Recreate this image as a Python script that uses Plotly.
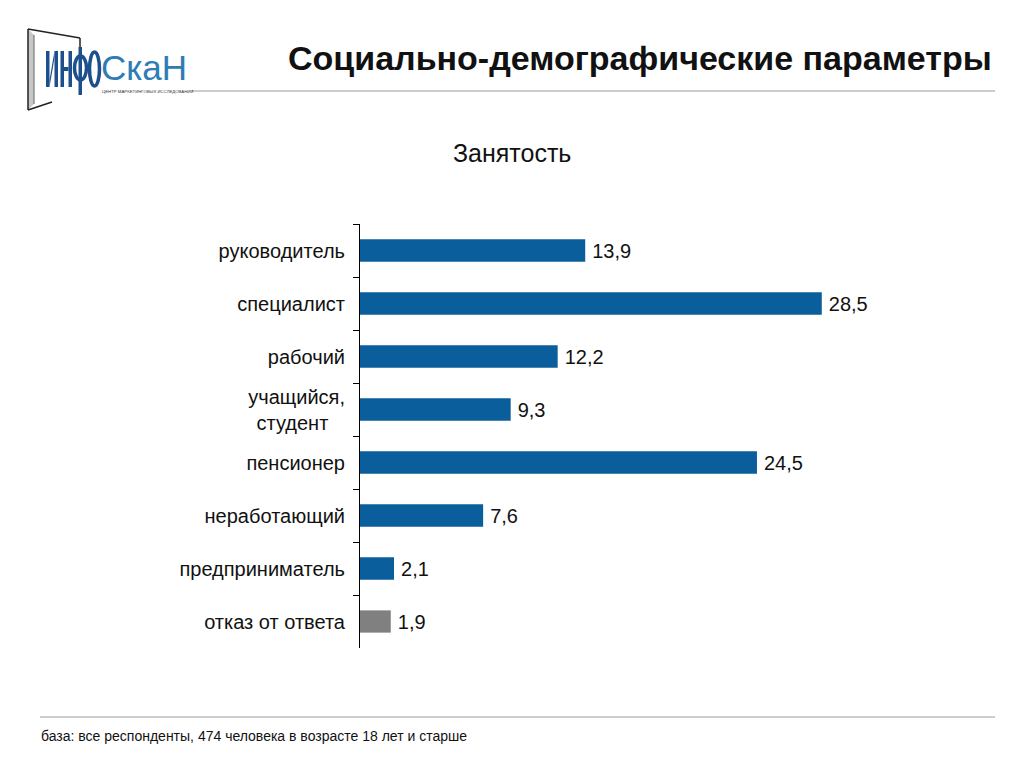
import plotly.graph_objects as go

categories = ["руководитель", "специалист", "рабочий", "учащийся,<br>студент\u00a0\u00a0\u00a0",
              "пенсионер", "неработающий", "предприниматель", "отказ от ответа"]
values = [13.9, 28.5, 12.2, 9.3, 24.5, 7.6, 2.1, 1.9]
labels = ["13,9", "28,5", "12,2", "9,3", "24,5", "7,6", "2,1", "1,9"]
colors = ["#0B5E9C"] * 7 + ["#808080"]

OFF = 8  # page body margin
W, H = 1024 - OFF, 768 - OFF
# plot area in reference-page pixels
RL, RR, RT, RB = 360, 1000, 224, 648
L, R, T, B = RL - OFF, RR - OFF, RT - OFF, RB - OFF


def px(x):
    return (x - OFF - L) / (R - L)


def py(y):
    return (B - (y - OFF)) / (B - T)


fig = go.Figure(go.Bar(
    x=values, y=categories, orientation="h",
    marker=dict(color=colors, line=dict(width=0)),
    text=labels, texttemplate="\u2009%{text}", textposition="outside", cliponaxis=False,
    textfont=dict(family="Liberation Sans, Arial", size=20, color="#111"),
))

fig.update_layout(
    width=W, height=H,
    margin=dict(l=L, r=W - R, t=T, b=H - B, pad=0),
    paper_bgcolor="white", plot_bgcolor="white",
    bargap=0.58, showlegend=False,
    font=dict(family="Liberation Sans, Arial", color="#111"),
    xaxis=dict(range=[0, 39.5], visible=False, fixedrange=True),
    yaxis=dict(autorange="reversed", showline=True, linecolor="#000", linewidth=1,
               ticks="outside", ticklen=6, tickcolor="#000", tickson="boundaries",
               tickfont=dict(size=20, color="#111"), ticklabelstandoff=10,
               showgrid=False, zeroline=False, fixedrange=True),
)

LOGO_DARK = "#1C4F8C"


def poly(pts, fill, line_color=None, lw=0):
    d = "M " + " L ".join(f"{px(x)},{py(y)}" for x, y in pts) + " Z"
    return dict(type="path", xref="paper", yref="paper", path=d, fillcolor=fill,
                line=dict(color=line_color or fill, width=lw))


def rect(x0, y0, x1, y1, fill):
    return dict(type="rect", xref="paper", yref="paper", x0=px(x0), x1=px(x1), y0=py(y1), y1=py(y0),
                fillcolor=fill, line=dict(width=0))


def ell(x0, y0, x1, y1, color, lw):
    return dict(type="circle", xref="paper", yref="paper", x0=px(x0), x1=px(x1), y0=py(y1), y1=py(y0),
                line=dict(color=color, width=lw), fillcolor="rgba(0,0,0,0)")


def seg(x0, y0, x1, y1, color, lw):
    return dict(type="line", xref="paper", yref="paper", x0=px(x0), x1=px(x1), y0=py(y0), y1=py(y1),
                line=dict(color=color, width=lw))


shapes = [
    # header and footer rules
    seg(192, 91, 995, 91, "#9A9A9A", 1),
    seg(40, 717, 995, 717, "#9A9A9A", 1),
    # logo frame
    poly([(28, 29), (34, 35), (34, 104), (28, 110)], "#C8C8C8"),
    seg(28, 29, 80, 38, "#222", 1.5),
    seg(80, 38, 80, 50, "#222", 1.5),
    seg(28, 29, 28, 110, "#222", 1.5),
    seg(28, 110, 52, 102, "#222", 1.5),
    seg(34, 35, 34, 104, "#666", 1),
    # logo letters "ИНФО"
    rect(46, 51, 49.5, 87, LOGO_DARK),
    rect(54.5, 51, 58, 87, LOGO_DARK),
    poly([(49.5, 80), (49.5, 87), (54.5, 58), (54.5, 51)], LOGO_DARK),
    rect(60.5, 51, 64, 87, LOGO_DARK),
    rect(68.5, 51, 72, 87, LOGO_DARK),
    rect(64, 67, 68.5, 71, LOGO_DARK),
    rect(78.5, 47, 82, 95, LOGO_DARK),
    ell(74.5, 56, 86.5, 80, LOGO_DARK, 3.5),
    ell(89.5, 52, 99.5, 86, LOGO_DARK, 3.5),
]
fig.update_layout(shapes=shapes)

ann = [
    dict(text="<b>Социально-демографические параметры</b>", x=px(994), y=py(58),
         xanchor="right", yanchor="middle", font=dict(size=34, color="#111")),
    dict(text="Занятость", x=px(512), y=py(153), xanchor="center", yanchor="middle",
         font=dict(size=25, color="#111")),
    dict(text="база: все респонденты, 474 человека в возрасте 18 лет и старше", x=px(39), y=py(736),
         xanchor="left", yanchor="middle", font=dict(size=14, color="#111")),
    dict(text="СкаН", x=px(99), y=py(67.5), xanchor="left", yanchor="middle",
         font=dict(family="Liberation Sans, Arial", size=35, color="#2D7DB5")),
    dict(text="ЦЕНТР МАРКЕТИНГОВЫХ ИССЛЕДОВАНИЙ", x=px(100), y=py(91.5), xanchor="left", yanchor="middle",
         font=dict(family="Liberation Sans, Arial", size=4.3, color="#333")),
]
for a in ann:
    a.update(xref="paper", yref="paper", showarrow=False)
fig.update_layout(annotations=ann)

fig.write_html("out.html")
